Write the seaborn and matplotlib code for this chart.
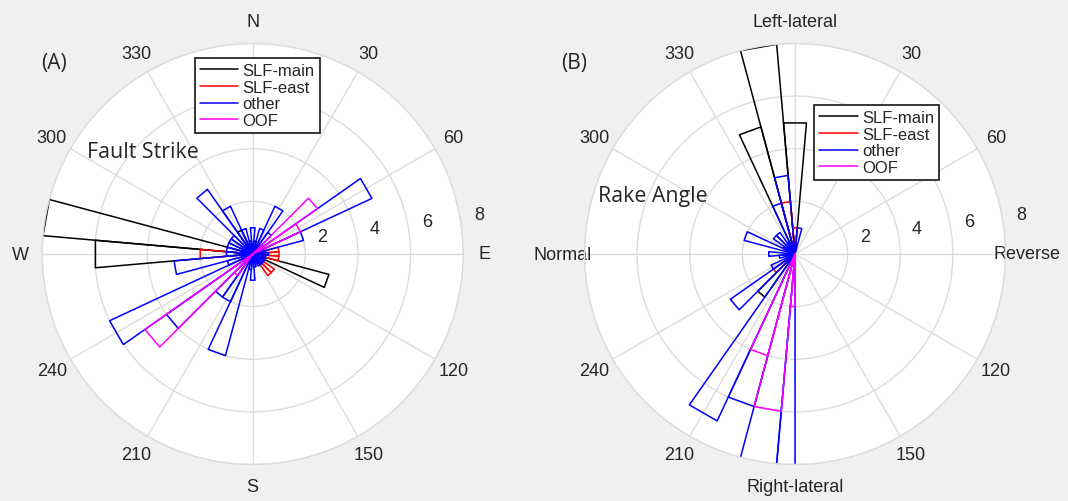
import numpy as np
import pandas as pd
import matplotlib
matplotlib.use("Agg")
import matplotlib.pyplot as plt
from matplotlib.lines import Line2D
from matplotlib.transforms import offset_copy
import seaborn as sns

sns.set_style("white")
plt.rcParams["font.family"] = ["Liberation Sans", "DejaVu Sans"]

# ---- (A) fault strike: 10-degree bins centred on 0, 10, ..., 350 ----
strike_centres = list(range(0, 360, 10))
#               0   10   20   30   40   50   60   70   80   90  100  110  120  130  140  150  160  170
strike_main = [0,   0,   0,   0,   0,   0,   0,   0,   0,   0,   0,   3,   0,   0,   0,   0,   0,   0,
               0,   0,   0,   0,   0,   0,   0,   0,   0,   6,   8,   0,   0,   0,   0,   1,   0,   0]
#             180  190  200  210  220  230  240  250  260  270  280  290  300  310  320  330  340  350
strike_east = [0,   0,   0,   0,   0,   0,   0,   0,   1,   1,   1,   0,   0,   1,   1,   0,   0,   0,
               0,   0,   0,   0,   0,   0,   0,   0,   0,   2,   0,   0,   0,   0,   0,   0,   0,   0]
strike_other = [1, 0.5,  1,   2,   1, 0.5,   5,   2, 0.5, 0.6, 0.5, 0.5, 0.5, 0.5, 0.5, 0.5, 0.4, 0.5,
                1, 0.6,  4,   2,   2,   4,   6,   1,   3,   1,   1,   1,   1,   1,   3,   2,   1, 0.5]
strike_oof = [0,    0,   0,   0,   0,   3,   2,   0,   0,   0,   0,   0,   0,   0,   0,   0,   0,   0,
              0,    0,   0,   0,   1,   5,   0,   0,   0,   0,   0,   0,   0,   0,   0,   0,   0,   0]

# ---- (B) rake angle: 10-degree bins, split at +/-180 ----
rake_edges = np.concatenate(([-180], np.arange(-175, 180, 10), [180]))
#          -180 -170 -160 -150 -140 -130 -120 -110 -100  -90  -80  -70  -60  -50  -40  -30  -20  -10
rake_main = [0,   0,   0,   0,   2,   0,   0,   0,   0,   0,   0,   0,   0,   0,   0,   0,   5,   8,
             5,   0,   0,   0,   0,   0,   0,   0,   0,   0,   0,   0,   0,   0,   0,   0,   0,   0,   0]
#            0    10   20   30   40   50   60   70   80   90  100  110  120  130  140  150  160  170  180
rake_east = [0,   0,   0,   0,   0,   1,   0,   0,   0,   0,   0,   0,   0,   0,   0,   0,   0,   2,
             1,   0,   0,   0,   0,   0,   0,   0,   0,   0,   0,   0,   0,   0,   0,   0,   0,   0,   0]
rake_other = [10, 10,  6,   7,   0,   3,   1,   0, 0.6,   1,   0,   2, 0.5,   1,   1, 0.5,   2,   3,
              0,   1,   0,   0,   0,   0,   0,   0,   0,   0,   0,   0,   0,   0,   0,   0,   0,   0,   0]
rake_oof = [2,    6,   4,   0,   0,   0,   0,   0,   0,   0,   0,   0,   0,   0,   0,   0,   0,   0,
            0,    0,   0,   0,   0,   0,   0,   0,   0,   0,   0,   0,   0,   0,   0,   0,   0,   0,   0]

series_names = ["SLF-main", "SLF-east", "other", "OOF"]
series_colors = sns.color_palette(["#000000", "#ff0000", "#0000ff", "#ff00ff"])

strike_labels = ["N", "30", "60", "E", "120", "150", "S", "210", "240", "W", "300", "330"]
rake_labels = ["Left-lateral", "30", "60", "Reverse", "120", "150",
               "Right-lateral", "210", "240", "Normal", "300", "330"]
r_ticks = [2, 4, 6, 8]

GRID = "#dcdcdc"
TXT = "#262626"


def rose_outline(lo_deg, hi_deg, values):
    """Rose-diagram outlines: one closed triangle per bin with a straight outer edge."""
    rows = []
    for k, (a, b, v) in enumerate(zip(lo_deg, hi_deg, values)):
        if v <= 0:
            continue
        ta, tb = np.deg2rad(a), np.deg2rad(b)
        pa = v * np.array([np.cos(ta), np.sin(ta)])
        pb = v * np.array([np.cos(tb), np.sin(tb)])
        s = np.linspace(0, 1, 25)[:, None]
        chord = (1 - s) * pa + s * pb
        th = np.unwrap(np.arctan2(chord[:, 1], chord[:, 0]))
        th = th - th[0] + ta
        rr = np.hypot(chord[:, 0], chord[:, 1])
        theta = np.concatenate(([ta], th, [tb]))
        radius = np.concatenate(([0.0], rr, [0.0]))
        for t, r in zip(theta, radius):
            rows.append({"theta": t, "r": r, "bin": k})
    return pd.DataFrame(rows)


def draw_panel(ax, lo, hi, series, theta_labels):
    ax.set_theta_zero_location("N")
    ax.set_theta_direction(-1)
    ax.set_facecolor("white")
    ax.set_axisbelow(True)

    for vals, color in zip(series, series_colors):
        df = rose_outline(lo, hi, vals)
        if df.empty:
            continue
        sns.lineplot(data=df, x="theta", y="r", units="bin", estimator=None,
                     sort=False, color=color, lw=1.1, ax=ax, legend=False)

    ax.set_xlabel("")
    ax.set_ylabel("")
    ax.set_ylim(0, 8)
    ax.set_xticks(np.deg2rad(np.arange(0, 360, 30)))
    ax.set_xticklabels(theta_labels, fontsize=13, color=TXT)
    ax.tick_params(axis="x", pad=5)
    ax.set_yticks(r_ticks)
    ax.set_yticklabels([])
    ax.grid(True, color=GRID, lw=1.0)
    ax.spines["polar"].set_color(GRID)
    ax.spines["polar"].set_linewidth(1.0)

    # radial tick labels laid along 82 degrees, nudged off the rings
    off = offset_copy(ax.transData, fig=ax.figure, x=17.8, y=10.3, units="dots")
    for r in r_ticks:
        ax.text(np.deg2rad(81.9), r, str(r), transform=off, fontsize=13,
                color=TXT, ha="center", va="center")


fig = plt.figure(figsize=(10.68, 5.02), dpi=100, facecolor="#f0f0f0")
W, H = 1068, 502
R = 210.5

def polar_axes(cx, cy):
    return fig.add_axes([(cx - R) / W, (H - cy - R) / H, 2 * R / W, 2 * R / H],
                        projection="polar")

ax_a = polar_axes(252.7, 255)
ax_b = polar_axes(795, 255)

strike_lo = [c - 5 for c in strike_centres]
strike_hi = [c + 5 for c in strike_centres]
draw_panel(ax_a, strike_lo, strike_hi,
           [strike_main, strike_east, strike_other, strike_oof], strike_labels)

rake_lo = list(rake_edges[:-1])
rake_hi = list(rake_edges[1:])
draw_panel(ax_b, rake_lo, rake_hi,
           [rake_main, rake_east, rake_other, rake_oof], rake_labels)

handles = [Line2D([], [], color=c, lw=1.1) for c in series_colors]
legend_kw = dict(loc="upper left", bbox_transform=fig.transFigure, fontsize=12,
                 frameon=True, fancybox=False, framealpha=1, edgecolor="#262626",
                 facecolor="white", handlelength=2.3, handletextpad=0.25,
                 borderpad=0.3, labelspacing=0.1, borderaxespad=0)
for x0, y0 in [(195, 59), (814.3, 106)]:
    leg = fig.legend(handles, series_names, bbox_to_anchor=(x0 / W, 1 - y0 / H), **legend_kw)
    leg.get_frame().set_linewidth(1.3)
    for t in leg.get_texts():
        t.set_color(TXT)

label_font = ["Open Sans", "DejaVu Sans"]
fig.text(53.7 / W, 1 - 63 / H, "(A)", family=label_font, fontsize=15, ha="center", va="center")
fig.text(574 / W, 1 - 63 / H, "(B)", family=label_font, fontsize=15, ha="center", va="center")
fig.text(142.5 / W, 1 - 152.5 / H, "Fault Strike", family=label_font, fontsize=15.4,
         ha="center", va="center")
fig.text(652.7 / W, 1 - 197 / H, "Rake Angle", family=label_font, fontsize=15.4,
         ha="center", va="center")

fig.savefig("out.png", dpi=100, facecolor=fig.get_facecolor())
